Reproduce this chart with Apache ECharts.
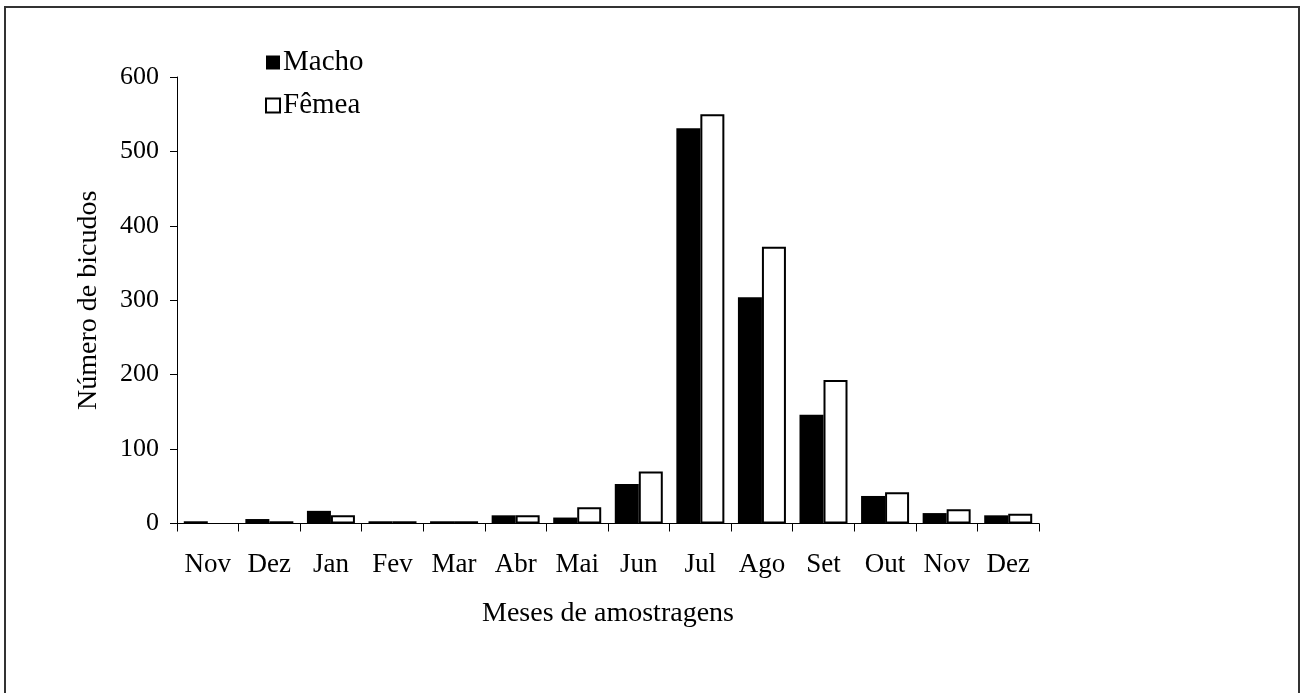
<!DOCTYPE html>
<html>
<head>
<meta charset="utf-8">
<script src="https://cdn.jsdelivr.net/npm/echarts@6/dist/echarts.min.js"></script>
<style>
html,body{margin:0;padding:0;background:#fff;}
#chart{width:1305px;height:693px;}
</style>
</head>
<body>
<div id="chart"></div>
<script>
var categories = ['Nov','Dez','Jan','Fev','Mar','Abr','Mai','Jun','Jul','Ago','Set','Out','Nov','Dez'];
var macho = [3,6,17,3,3,11,8,53,531,304,146,37,14,11];
var femea = [0,3,11,3,3,11,22,70,550,372,193,42,19,13];
var yTicks = {min:0, max:600, interval:100};

var FONT = 'Liberation Serif';
var chart = echarts.init(document.getElementById('chart'));
chart.setOption({
  animation:false,
  backgroundColor:'#fff',
  graphic:[{
    type:'rect', shape:{x:5,y:7,width:1294,height:720},
    style:{fill:'none',stroke:'#333',lineWidth:2}, silent:true
  }],
  grid:{left:177,right:266,top:77,bottom:169.5,containLabel:false},
  legend:{
    orient:'vertical', left:260, top:43, itemWidth:14, itemHeight:14, itemGap:14,
    icon:'rect',
    textStyle:{fontFamily:FONT,fontSize:29,color:'#000',padding:[0,0,0,-2]},
    data:['Macho','Fêmea']
  },
  xAxis:{
    type:'category', data:categories,
    axisLine:{lineStyle:{color:'#000',width:1}},
    axisTick:{show:true,length:8,lineStyle:{color:'#000'},alignWithLabel:false},
    axisLabel:{color:'#000',fontFamily:FONT,fontSize:27,margin:28,interval:0},
    name:'Meses de amostragens', nameLocation:'middle', nameGap:76,
    nameTextStyle:{color:'#000',fontFamily:FONT,fontSize:28}
  },
  yAxis:{
    type:'value', min:yTicks.min, max:yTicks.max, interval:yTicks.interval,
    axisLine:{show:true,lineStyle:{color:'#000',width:1}},
    axisTick:{show:true,length:7,lineStyle:{color:'#000'}},
    splitLine:{show:false},
    axisLabel:{color:'#000',fontFamily:FONT,fontSize:26,margin:18},
    name:'Número de bicudos', nameLocation:'middle', nameGap:74,
    nameTextStyle:{color:'#000',fontFamily:FONT,fontSize:28}
  },
  series:[
    {name:'Macho',type:'bar',data:macho,barWidth:24,barGap:'0%',
     itemStyle:{color:'#000',borderColor:'#000',borderWidth:0}},
    {name:'Fêmea',type:'bar',data:femea.map(function(v){return v === 0 ? null : v;}),barWidth:24,
     itemStyle:{color:'#fff',borderColor:'#000',borderWidth:2}}
  ]
});
</script>
</body>
</html>
